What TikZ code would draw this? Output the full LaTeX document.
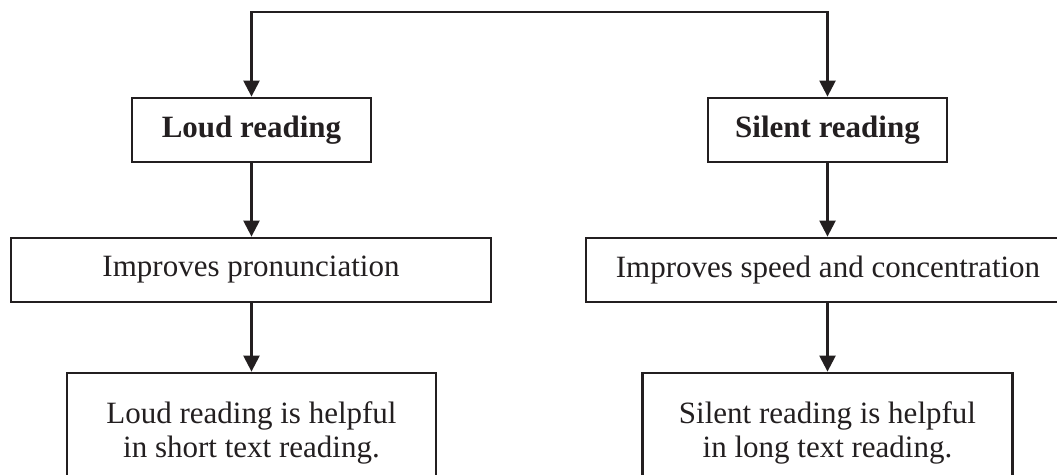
\documentclass[tikz,border=0pt]{standalone}
\usepackage{fontspec}
\setmainfont{Liberation Serif}
\usetikzlibrary{arrows.meta}
\definecolor{ink}{HTML}{231F20}
\begin{document}
\begin{tikzpicture}[x=1pt,y=-1pt,
  box/.style={draw=ink,line width=2.8pt,inner sep=0pt,align=center,
    font=\fontsize{31}{34.5}\selectfont,text=ink},
  arr/.style={draw=ink,line width=2.4pt,-{Triangle[length=16pt,width=16pt]}}]
\useasboundingbox (0,0) rectangle (1057,474);
\clip (0,0) rectangle (1057,474);
\node[box,minimum width=239pt,minimum height=64pt] (loud) at (251.5,130) {\bfseries Loud reading};
\node[box,minimum width=239pt,minimum height=64pt] (silent) at (827.5,130) {\bfseries Silent reading};
\node[box,minimum width=480pt,minimum height=64pt] (pron) at (251,270) {Improves pronunciation};
\node[box,minimum width=484pt,minimum height=64pt] (speed) at (828,270) {Improves speed and concentration};
\node[box,minimum width=369pt,minimum height=120pt] (lhelp) at (251.5,433) {Loud reading is helpful\\in short text reading.};
\node[box,minimum width=370pt,minimum height=120pt] (shelp) at (827.5,433) {Silent reading is helpful\\in long text reading.};
\coordinate (top) at (540,12);
\draw[arr] (top) -| (loud.north);
\draw[arr] (top) -| (silent.north);
\draw[arr] (loud) -- (pron.north -| loud);
\draw[arr] (silent) -- (speed.north -| silent);
\draw[arr] (pron.south -| lhelp) -- (lhelp);
\draw[arr] (speed.south -| shelp) -- (shelp);
\end{tikzpicture}
\end{document}
